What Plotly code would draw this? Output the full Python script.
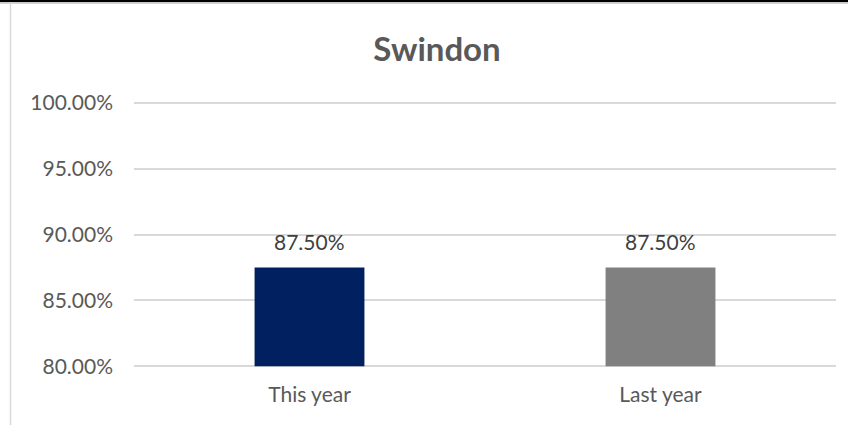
import plotly.graph_objects as go

categories = ["This year", "Last year"]
values = [87.5, 87.5]
bar_colors = ["#002060", "#808080"]
tick_vals = [80, 85, 90, 95, 100]
tick_text = ["80.00%", "85.00%", "90.00%", "95.00%", "100.00%"]
title_text = "Swindon"
axis_min, axis_max = 80, 100
pad = 0.2  # small range padding so the edge gridlines are drawn

W, H = 848, 425
grid_top_px, grid_bottom_px = 103, 366
unit_px = (grid_bottom_px - grid_top_px) / (axis_max - axis_min)
L, R = 134, 12
T = grid_top_px - pad * unit_px
B = (H - grid_bottom_px) - pad * unit_px
pw, ph = W - L - R, H - T - B

def px_x(x):
    return (x - L) / pw

def px_y(y):
    return (H - B - y) / ph

fig = go.Figure()
fig.add_trace(go.Bar(
    x=categories, y=[v - axis_min for v in values], base=[axis_min] * len(values),
    marker=dict(color=bar_colors, line=dict(width=0)),
    hoverinfo="skip",
))

for c, v in zip(categories, values):
    fig.add_annotation(
        x=c, y=v, text=f"{v:.2f}%", showarrow=False,
        yanchor="middle", yshift=26,
        font=dict(family="Lato", size=21, color="#404040"),
    )

shapes = [
    dict(type="rect", xref="paper", yref="paper", x0=px_x(0), x1=px_x(W),
         y0=px_y(3), y1=px_y(0), fillcolor="#000000", line=dict(width=0), layer="above"),
    dict(type="line", xref="paper", yref="paper", x0=px_x(0), x1=px_x(W),
         y0=px_y(3.8), y1=px_y(3.8), line=dict(color="#d4d4d4", width=1.5)),
    dict(type="line", xref="paper", yref="paper", x0=px_x(10.5), x1=px_x(10.5),
         y0=px_y(425), y1=px_y(3), line=dict(color="#d9d9d9", width=1.5)),
]

fig.update_layout(
    width=W, height=H,
    margin=dict(l=L, r=R, t=T, b=B),
    paper_bgcolor="white", plot_bgcolor="white",
    showlegend=False,
    bargap=0.687,
    shapes=shapes,
    title=dict(text=f"<b>{title_text}</b>", x=437 / W, xanchor="center",
               y=(H - 49) / H, yanchor="middle",
               font=dict(family="Lato", size=33, color="#595959")),
    font=dict(family="Lato", size=21, color="#595959"),
)
fig.update_yaxes(
    range=[axis_min - pad, axis_max + pad], tickvals=tick_vals, ticktext=tick_text,
    showgrid=True, gridcolor="#d9d9d9", gridwidth=1.5,
    zeroline=False, showline=False, ticks="",
    ticklabelstandoff=20,
    tickfont=dict(family="Lato", size=21, color="#595959"),
)
fig.update_xaxes(
    showgrid=False, zeroline=False, showline=False, ticks="",
    ticklabelstandoff=int(round(14 - pad * unit_px)),
    tickfont=dict(family="Lato", size=21, color="#595959"),
)

fig.write_html("out.html")
